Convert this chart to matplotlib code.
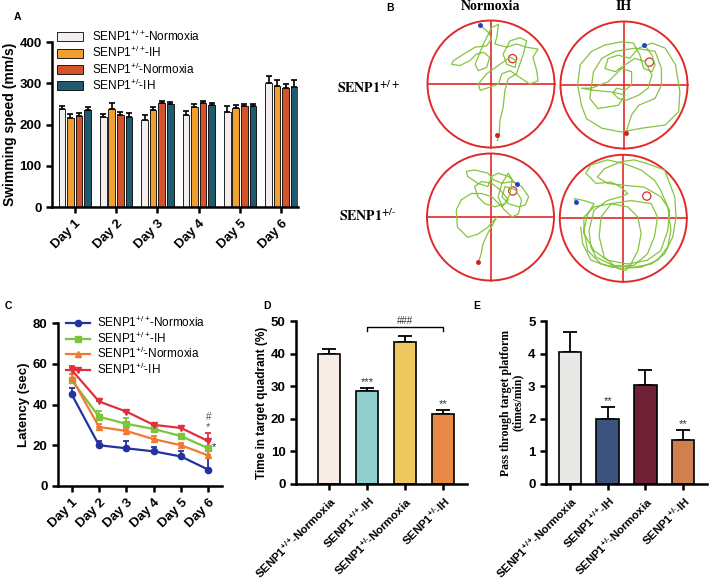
import numpy as np
import matplotlib
matplotlib.use("Agg")
import matplotlib.pyplot as plt
from matplotlib.patches import Circle

plt.rcParams['font.family'] = ['Liberation Sans', 'DejaVu Sans']
plt.rcParams['mathtext.fontset'] = 'custom'
plt.rcParams['mathtext.rm'] = 'Liberation Sans'
plt.rcParams['mathtext.bf'] = 'Liberation Sans:bold'
plt.rcParams['mathtext.default'] = 'regular'

# ---------------- data ----------------
days = ['Day 1', 'Day 2', 'Day 3', 'Day 4', 'Day 5', 'Day 6']
genotypes = ['+/+', '+/+', '+/-', '+/-']
conditions = ['Normoxia', 'IH', 'Normoxia', 'IH']

speed_wt_norm = [237, 217, 211, 222, 231, 300]
speed_wt_ih = [215, 238, 234, 242, 239, 293]
speed_het_norm = [221, 223, 251, 251, 244, 289]
speed_het_ih = [235, 218, 249, 248, 245, 290]
speed_err_wt_norm = [7, 8, 11, 10, 15, 18]
speed_err_wt_ih = [10, 13, 9, 8, 8, 15]
speed_err_het_norm = [8, 8, 5, 5, 5, 10]
speed_err_het_ih = [8, 10, 5, 5, 5, 17]

lat_wt_norm = [45, 20, 18.5, 17, 14.5, 8]
lat_wt_ih = [52, 34, 30.5, 28, 24.5, 18.5]
lat_het_norm = [53, 29, 27, 23, 20, 15]
lat_het_ih = [57, 41.5, 36.5, 30, 28.5, 22]
lat_err_wt_norm = [3, 2, 3.5, 2, 2.5, 7]
lat_err_wt_ih = [3, 3, 3, 1.5, 1, 4]
lat_err_het_norm = [2, 1.5, 1, 1.5, 1, 2]
lat_err_het_ih = [2, 1, 1, 1, 1, 4]

quad_time = [39.8, 28.5, 43.5, 21.5]
quad_err = [1.7, 1.0, 1.8, 1.3]
quad_marks = ['', '***', '', '**']

passes = [4.05, 2.0, 3.05, 1.35]
passes_err = [0.6, 0.35, 0.45, 0.3]
passes_marks = ['', '**', '', '**']

# swim paths (unit circle coordinates)
path_wt_norm = [(-0.17, 0.93), (-0.04, 0.81), (0.01, 0.71), (-0.07, 0.60), (-0.25, 0.58),
                (-0.43, 0.47), (-0.59, 0.37), (-0.62, 0.31), (-0.49, 0.29), (-0.33, 0.37),
                (-0.23, 0.47), (-0.12, 0.50), (-0.02, 0.42), (-0.07, 0.26), (-0.20, 0.21),
                (-0.25, 0.31), (-0.12, 0.63), (0.01, 0.89), (0.12, 0.94), (0.09, 0.73),
                (0.06, 0.63), (0.25, 0.58), (0.40, 0.63), (0.56, 0.58), (0.74, 0.55),
                (0.66, 0.42), (0.72, 0.21), (0.74, 0.05), (0.61, 0.0), (0.46, 0.10),
                (0.30, 0.21), (0.17, 0.16), (0.12, 0.0), (-0.02, -0.05), (-0.17, -0.10),
                (-0.20, 0.0), (-0.07, 0.16), (0.14, 0.31), (0.30, 0.42), (0.40, 0.37),
                (0.38, 0.26), (0.25, 0.31), (0.19, 0.47), (0.30, 0.68), (0.46, 0.73),
                (0.56, 0.68), (0.51, 0.47), (0.40, 0.16), (0.27, 0.08), (0.22, -0.10),
                (0.19, -0.37), (0.14, -0.58), (0.13, -0.79), (0.10, -0.89)]
path_wt_ih = [(0.32, 0.63), (0.44, 0.47), (0.49, 0.32), (0.44, 0.21), (0.31, 0.26),
              (0.25, 0.47), (0.15, 0.66), (-0.04, 0.68), (-0.30, 0.63), (-0.51, 0.53),
              (-0.69, 0.32), (-0.73, 0.0), (-0.67, -0.32), (-0.59, -0.53), (-0.35, -0.68),
              (-0.04, -0.74), (0.28, -0.68), (0.65, -0.63), (0.86, -0.42), (0.88, -0.11),
              (0.81, 0.32), (0.65, 0.58), (0.44, 0.66), (0.23, 0.58), (0.09, 0.42),
              (-0.09, 0.47), (-0.25, 0.42), (-0.30, 0.26), (-0.14, 0.21), (0.02, 0.32),
              (0.17, 0.42), (0.33, 0.37), (0.44, 0.16), (0.38, -0.05), (0.23, -0.16),
              (0.04, -0.24), (-0.09, -0.21), (-0.17, -0.13), (-0.12, -0.05), (0.02, -0.08),
              (0.12, 0.0), (0.12, 0.21), (-0.04, 0.26), (-0.25, 0.05), (-0.51, -0.05),
              (-0.67, -0.05), (-0.51, -0.08), (-0.19, -0.11), (0.02, -0.16), (-0.09, -0.32),
              (-0.41, -0.37), (-0.54, -0.21), (-0.48, 0.21), (-0.35, 0.42), (-0.14, 0.53),
              (0.17, 0.58), (0.49, 0.53), (0.59, 0.26), (0.59, 0.0), (0.49, -0.21),
              (0.23, -0.32), (0.12, -0.47), (0.03, -0.75)]
path_het_norm = [(0.41, 0.52), (0.28, 0.64), (0.12, 0.69), (0.02, 0.64), (-0.04, 0.48),
                 (-0.20, 0.53), (-0.36, 0.64), (-0.38, 0.72), (-0.25, 0.74), (-0.04, 0.69),
                 (0.04, 0.59), (0.18, 0.53), (0.34, 0.56), (0.49, 0.48), (0.60, 0.32),
                 (0.55, 0.19), (0.44, 0.16), (0.28, 0.21), (0.18, 0.32), (0.23, 0.48),
                 (0.39, 0.43), (0.49, 0.27), (0.44, 0.05), (0.34, 0.0), (0.20, 0.13),
                 (0.12, 0.32), (0.18, 0.53), (0.28, 0.69), (0.34, 0.59), (0.31, 0.37),
                 (0.23, 0.21), (0.07, 0.16), (-0.09, 0.21), (-0.20, 0.32), (-0.25, 0.48),
                 (-0.14, 0.56), (0.02, 0.53), (0.15, 0.43), (0.28, 0.27), (0.18, 0.16),
                 (0.02, 0.32), (-0.14, 0.37), (-0.30, 0.37), (-0.46, 0.27), (-0.54, 0.11),
                 (-0.52, -0.16), (-0.36, -0.32), (-0.20, -0.27), (-0.04, -0.16), (0.10, 0.0),
                 (0.04, -0.11), (-0.06, -0.29), (-0.12, -0.43), (-0.15, -0.59), (-0.19, -0.71)]
path_het_ih = [(-0.75, 0.25), (-0.77, 0.31), (-0.62, 0.28), (-0.46, 0.23), (-0.56, 0.07),
               (-0.62, -0.19), (-0.56, -0.51), (-0.35, -0.72), (-0.04, -0.79), (0.28, -0.77),
               (0.54, -0.66), (0.70, -0.45), (0.75, -0.19), (0.70, 0.18), (0.59, 0.44),
               (0.49, 0.60), (0.28, 0.76), (0.02, 0.86), (-0.25, 0.92), (-0.51, 0.84),
               (-0.59, 0.71), (-0.43, 0.55), (-0.19, 0.57), (-0.04, 0.49), (0.07, 0.39),
               (-0.04, 0.34), (-0.25, 0.28), (-0.46, 0.13), (-0.54, -0.19), (-0.51, -0.45),
               (-0.43, -0.61), (-0.17, -0.74), (0.17, -0.77), (0.44, -0.72), (0.65, -0.56),
               (0.78, -0.29), (0.83, 0.02), (0.81, 0.34), (0.73, 0.55), (0.65, 0.76),
               (0.38, 0.86), (0.17, 0.92), (-0.04, 0.89), (-0.30, 0.78), (-0.41, 0.65),
               (-0.25, 0.55), (0.02, 0.52), (0.33, 0.49), (0.59, 0.34), (0.73, 0.13),
               (0.70, -0.19), (0.59, -0.51), (0.38, -0.66), (0.07, -0.72), (-0.25, -0.66),
               (-0.46, -0.51), (-0.62, -0.24), (-0.62, 0.02), (-0.46, 0.18), (-0.19, 0.23),
               (0.07, 0.18), (0.23, 0.02), (0.28, -0.24), (0.23, -0.51), (0.12, -0.72),
               (0.04, -0.82), (-0.09, -0.79), (-0.30, -0.61), (-0.38, -0.29), (-0.35, 0.02),
               (-0.19, 0.23), (0.12, 0.28), (0.44, 0.23), (0.54, 0.02), (0.49, -0.29),
               (0.38, -0.56), (0.17, -0.74), (-0.19, -0.77), (-0.51, -0.66), (-0.64, -0.40),
               (-0.67, -0.14)]
targets = [(0.34, 0.4), (0.40, 0.36), (0.35, 0.41), (0.37, 0.35)]
end_points = [(0.10, -0.81), (0.03, -0.75), (-0.19, -0.71), None]


def label(geno, cond, bold=False):
    sup = geno.replace('-', r'\text{-}')
    if bold:
        return r'$\mathbf{SENP1}^{\mathbf{' + sup + r'}}\!\mathbf{\text{-}' + cond + '}$'
    return r'SENP1$^{' + sup + r'}\!$-' + cond


W, H = 709, 583
fig = plt.figure(figsize=(W / 100, H / 100), dpi=100)


def px_axes(x0, y0, x1, y1):
    return fig.add_axes([x0 / W, 1 - y1 / H, (x1 - x0) / W, (y1 - y0) / H])


def style(ax):
    for s in ['top', 'right']:
        ax.spines[s].set_visible(False)
    for s in ['left', 'bottom']:
        ax.spines[s].set_linewidth(1.8)
    ax.tick_params(width=1.8, length=4, labelsize=9.5)
    for lab in ax.get_yticklabels():
        lab.set_fontweight('bold')


def upper_err(ax, x, y, e, color='black', lw=1.2, cap=2.5):
    ax.errorbar(x, y, yerr=[np.zeros(len(e)), e], fmt='none', ecolor=color,
                elinewidth=lw, capsize=cap, capthick=lw, zorder=1)


legend_labels = [label(g, c) for g, c in zip(genotypes, conditions)]
tick_labels = [label(g, c, bold=True) for g, c in zip(genotypes, conditions)]

# ---------------- A ----------------
axA = px_axes(52, 42, 298, 207)
colA = ['#f4eeee', '#f0a030', '#d4532a', '#1f5a6e']
x = np.arange(len(days))
bw = 0.16
offs = [-0.31, -0.105, 0.105, 0.31]
vals = [speed_wt_norm, speed_wt_ih, speed_het_norm, speed_het_ih]
errs = [speed_err_wt_norm, speed_err_wt_ih, speed_err_het_norm, speed_err_het_ih]
for v, e, c, o, g in zip(vals, errs, colA, offs, legend_labels):
    axA.bar(x + o, v, bw, color=c, edgecolor='black', linewidth=0.6, label=g, zorder=2)
    upper_err(axA, x + o, v, e, cap=2)
axA.set_xlim(-0.55, 5.4)
axA.set_ylim(0, 400)
axA.set_yticks([0, 100, 200, 300, 400])
axA.set_xticks(x)
style(axA)
axA.set_xticklabels(days, rotation=45, ha='right', rotation_mode='anchor',
                    fontweight='bold', fontsize=9.5)
axA.set_ylabel('Swimming speed (mm/s)', fontweight='bold', fontsize=10, labelpad=2)
axA.legend(loc='upper left', bbox_to_anchor=(0.0, 1.11), frameon=False, fontsize=8.5,
           handlelength=2.2, handleheight=0.8, labelspacing=0.1, borderaxespad=0)
fig.text(14 / W, 1 - 17 / H, 'A', fontweight='bold', fontsize=7.5, va='center')

# ---------------- B ----------------
fig.text(386 / W, 1 - 8 / H, 'B', fontweight='bold', fontsize=7.5, va='center')
centers = [(491, 84), (624, 85), (490.5, 217), (623.3, 218.3)]
paths = [path_wt_norm, path_wt_ih, path_het_norm, path_het_ih]
r = 63.5
for (cx, cy), p, t, ep in zip(centers, paths, targets, end_points):
    ax = px_axes(cx - r * 1.03, cy - r * 1.03, cx + r * 1.03, cy + r * 1.03)
    ax.set_xlim(-1.03, 1.03)
    ax.set_ylim(-1.03, 1.03)
    ax.axis('off')
    ax.add_patch(Circle((0, 0), 1, fill=False, edgecolor='#e02a2a', linewidth=1.4))
    ax.plot([-1, 1], [0, 0], color='#e02a2a', lw=1.2)
    ax.plot([0, 0], [-1, 1], color='#e02a2a', lw=1.2)
    pa = np.array(p)
    ax.plot(pa[:, 0], pa[:, 1], color='#86c440', lw=0.9, solid_joinstyle='round')
    ax.add_patch(Circle(t, 0.065, fill=False, edgecolor='#e02a2a', linewidth=0.9))
    ax.plot(*pa[0], 'o', color='#2040c0', ms=2.5)
    if ep is not None:
        ax.plot(*ep, 'o', color='#d02020', ms=2.5)
sf = ['Liberation Serif', 'DejaVu Serif']
fig.text(491 / W, 1 - 6 / H, 'Normoxia', family=sf, fontweight='bold', fontsize=10,
         ha='center', va='center')
fig.text(624 / W, 1 - 6 / H, 'IH', family=sf, fontweight='bold', fontsize=10,
         ha='center', va='center')
fig.text(368 / W, 1 - 88 / H, r'$\mathbf{SENP1^{+/+}}$', family=sf, fontsize=10,
         ha='center', va='center', math_fontfamily='stix')
fig.text(368 / W, 1 - 216 / H, r'$\mathbf{SENP1^{+/\text{-}}}$', family=sf, fontsize=10,
         ha='center', va='center', math_fontfamily='stix')

# ---------------- C ----------------
axC = px_axes(58, 323, 222, 486)
colC = ['#2233a0', '#7cc43a', '#f07a30', '#e03040']
mk = ['o', 's', '^', 'v']
lats = [lat_wt_norm, lat_wt_ih, lat_het_norm, lat_het_ih]
lerr = [lat_err_wt_norm, lat_err_wt_ih, lat_err_het_norm, lat_err_het_ih]
for v, e, c, m, g in zip(lats, lerr, colC, mk, legend_labels):
    axC.plot(x, v, color=c, marker=m, ms=4.5, lw=1.6, label=g, zorder=3)
    upper_err(axC, x, v, e, color=c, lw=1.3, cap=2.5)
axC.set_xlim(-0.5, 5.5)
axC.set_ylim(0, 80)
axC.set_yticks([0, 20, 40, 60, 80])
axC.set_xticks(x)
style(axC)
axC.set_xticklabels(days, rotation=45, ha='right', rotation_mode='anchor',
                    fontweight='bold', fontsize=9.5)
axC.set_ylabel('Latency (sec)', fontweight='bold', fontsize=9.5, labelpad=2)
axC.legend(loc='upper left', bbox_to_anchor=(0.02, 1.08), frameon=False, fontsize=8.5,
           handlelength=2.0, labelspacing=0.05, borderaxespad=0, handletextpad=0.6)
axC.text(5, 31.5, '#', color='#555555', fontsize=7, ha='center', va='bottom')
axC.text(5, 26.3, '*', color='#555555', fontsize=8, ha='center', va='bottom')
axC.text(5.22, 16.5, '*', color='#333333', fontsize=8, ha='center', va='bottom')
fig.text(5 / W, 1 - 306 / H, 'C', fontweight='bold', fontsize=7.5, va='center')

# ---------------- D ----------------
axD = px_axes(296, 321, 467, 484)
colD = ['#f8ede6', '#8fd0cf', '#f0c860', '#e88a45']
xb = np.arange(4)
axD.bar(xb, quad_time, 0.6, color=colD, edgecolor='black', linewidth=1.2, zorder=2)
upper_err(axD, xb, quad_time, quad_err, lw=1.3, cap=5)
for xi, v, e, s in zip(xb, quad_time, quad_err, quad_marks):
    if s:
        axD.text(xi, v + e + 0.3, s, ha='center', va='bottom', fontsize=8, color='#333333')
axD.plot([1, 1, 3, 3], [47, 48.2, 48.2, 47], color='black', lw=1)
axD.text(2, 48.4, '###', ha='center', va='bottom', fontsize=7, color='#333333')
axD.set_xlim(-0.87, 3.63)
axD.set_ylim(0, 50)
axD.set_yticks([0, 10, 20, 30, 40, 50])
axD.set_xticks(xb)
style(axD)
axD.set_xticklabels(tick_labels, rotation=45, ha='right', rotation_mode='anchor',
                    fontsize=8.2)
axD.set_ylabel('Time in target quadrant (%)', fontweight='bold', fontsize=8.5, labelpad=2)
fig.text(263 / W, 1 - 306 / H, 'D', fontweight='bold', fontsize=7.5, va='center')

# ---------------- E ----------------
axE = px_axes(546, 321, 707, 484)
colE = ['#e8e8e6', '#3d5480', '#6e2035', '#d08050']
axE.bar(xb, passes, 0.6, color=colE, edgecolor='black', linewidth=1.2, zorder=2)
upper_err(axE, xb, passes, passes_err, lw=1.3, cap=5)
for xi, v, e, s in zip(xb, passes, passes_err, passes_marks):
    if s:
        axE.text(xi, v + e + 0.03, s, ha='center', va='bottom', fontsize=8, color='#333333')
axE.set_xlim(-0.64, 3.64)
axE.set_ylim(0, 5)
axE.set_yticks([0, 1, 2, 3, 4, 5])
axE.set_xticks(xb)
style(axE)
axE.set_xticklabels(tick_labels, rotation=45, ha='right', rotation_mode='anchor',
                    fontsize=8.2)
axE.set_ylabel('Pass through target platform\n(times/min)', family=sf, fontweight='bold',
               fontsize=8.5, labelpad=3, linespacing=1.0)
fig.text(473 / W, 1 - 306 / H, 'E', fontweight='bold', fontsize=7.5, va='center')

fig.savefig('out.png', dpi=100)
